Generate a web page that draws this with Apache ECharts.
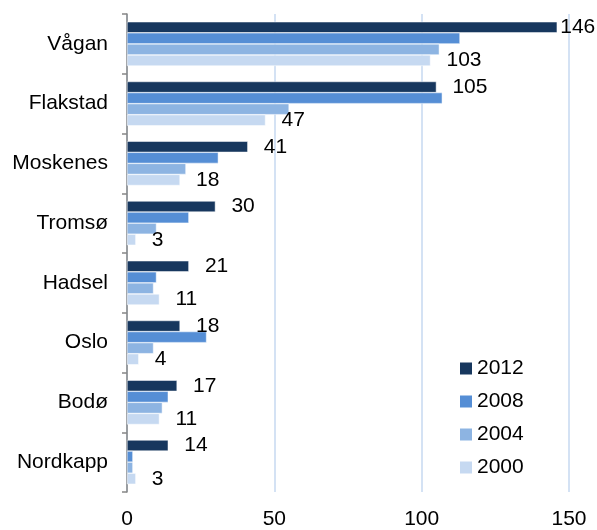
<!DOCTYPE html>
<html>
<head>
<meta charset="utf-8">
<script src="https://cdn.jsdelivr.net/npm/echarts@6/dist/echarts.min.js"></script>
<style>
  html, body { margin: 0; padding: 0; background: #fff; }
  #main { width: 597px; height: 530px; }
</style>
</head>
<body>
<div id="main"></div>
<script>
var places = ['Vågan', 'Flakstad', 'Moskenes', 'Tromsø', 'Hadsel', 'Oslo', 'Bodø', 'Nordkapp'];
var years = ['2012', '2008', '2004', '2000'];
var v2012 = [146, 105, 41, 30, 21, 18, 17, 14];
var v2008 = [113, 107, 31, 21, 10, 27, 14, 2];
var v2004 = [106, 55, 20, 10, 9, 9, 12, 2];
var v2000 = [103, 47, 18, 3, 11, 4, 11, 3];
var xTicks = [0, 50, 100, 150];

var colors = ['#17375e', '#558ed5', '#8db4e2', '#c6d9f1'];
var font = 'Liberation Sans, Arial, sans-serif';

// labels only on 2012 and 2000, the long Vågan one is pushed against the edge
function withLabels(values, show) {
    return values.map(function (v, i) {
        var d = { value: v };
        if (show) {
            d.label = { show: true, distance: (v >= 140 ? 3 : 16) };
        }
        return d;
    });
}

var allValues = [v2012, v2008, v2004, v2000];
var labelled = [true, false, false, true];

var series = years.map(function (y, k) {
    return {
        name: y,
        type: 'bar',
        data: withLabels(allValues[k], labelled[k]),
        barGap: '0%',
        barCategoryGap: '26%',
        itemStyle: { color: colors[k], borderColor: '#fff', borderWidth: 0.5 },
        label: {
            position: 'right',
            color: '#000',
            fontSize: 21,
            fontFamily: font
        },
        animation: false
    };
});

var myChart = echarts.init(document.getElementById('main'));
var option = {
    color: colors,
    animation: false,
    grid: { left: 127, right: 28, top: 14, bottom: 36 },
    legend: {
        data: years,
        orient: 'vertical',
        left: 455,
        top: 353,
        icon: 'rect',
        itemWidth: 12,
        itemHeight: 12,
        itemGap: 12,
        itemStyle: { borderWidth: 0 },
        textStyle: { fontSize: 21, color: '#000', fontFamily: font }
    },
    xAxis: {
        type: 'value',
        min: xTicks[0],
        max: xTicks[xTicks.length - 1],
        interval: 50,
        axisLine: { show: false },
        axisTick: { show: false },
        axisLabel: { fontSize: 21, color: '#000', fontFamily: font, margin: 17 },
        splitLine: { lineStyle: { color: '#c6d9f1', width: 1.5 } }
    },
    yAxis: {
        type: 'category',
        data: places,
        inverse: true,
        axisLine: { lineStyle: { color: '#868686', width: 1.5 } },
        axisTick: { show: true, length: 5, lineStyle: { color: '#868686', width: 1.5 } },
        axisLabel: { fontSize: 21, color: '#000', fontFamily: font, margin: 19 }
    },
    series: series
};
myChart.setOption(option);
</script>
</body>
</html>
